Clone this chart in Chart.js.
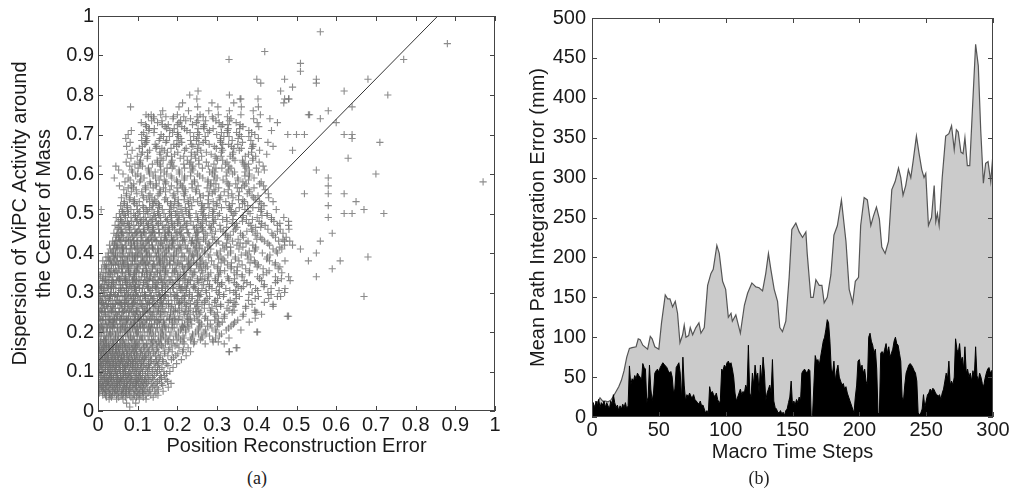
<!DOCTYPE html>
<html>
<head>
<meta charset="utf-8">
<script src="https://cdn.jsdelivr.net/npm/chart.js@4/dist/chart.umd.min.js"></script>
<style>
  body { margin: 0; background: #fff; width: 1012px; height: 489px; position: relative; overflow: hidden; }
  canvas { position: absolute; top: 0; }
  #left { left: 0; }
  #right { left: 506px; }
  .cap { position: absolute; font-family: "Liberation Serif", serif; font-size: 18px; color: #222; transform: translate(-50%, -50%); top: 478px; }
</style>
</head>
<body>
<canvas id="left" width="506" height="460"></canvas>
<canvas id="right" width="506" height="470"></canvas>
<div class="cap" style="left:257px">(a)</div>
<div class="cap" style="left:759px">(b)</div>
<script>
// ---------- (a) scatter: rows of the cloud, y value + x positions (thousandths) ----------
const cloudY = [0.01,0.02,0.03,0.04,0.05,0.06,0.07,0.08,0.09,0.10,0.11,0.12,0.13,0.14,0.15,0.16,0.17,0.18,0.19,0.20,
  0.21,0.22,0.23,0.24,0.25,0.26,0.27,0.28,0.29,0.30,0.31,0.32,0.33,0.34,0.35,0.36,0.37,0.38,0.39,0.40,
  0.41,0.42,0.43,0.44,0.45,0.46,0.47,0.48,0.49,0.50,0.51,0.52,0.53,0.54,0.55,0.56,0.57,0.58,0.59,0.60,
  0.61,0.62,0.63,0.64,0.65,0.66,0.67,0.68,0.69,0.70,0.71,0.72,0.73,0.74,0.75,0.76,0.77,0.78,0.79,0.80,0.81];
const cloudX = [
  [80],
  [72,95],
  [28,47,63,88,104,121],
  [12,19,31,36,47,58,61,73,79,92,101,108,121,133,151],
  [5,11,22,26,37,44,53,59,68,77,83,95,99,112,118,129,143,164],
  [0,9,14,25,33,38,49,55,64,72,81,86,97,106,111,124,137,149,177],
  [3,7,18,22,31,42,47,56,67,71,80,91,96,103,115,122,134,146,160,184],
  [1,12,16,27,35,40,51,58,63,76,84,88,99,109,117,126,139,155,171],
  [6,10,20,29,34,45,50,61,69,74,85,93,102,107,119,131,142,158,167],
  [2,8,17,24,32,41,46,57,66,70,79,90,98,104,113,125,136,150,166,181],
  [4,13,19,28,36,43,52,62,67,78,87,94,101,110,123,130,144,161,189],
  [0,7,15,23,30,39,48,54,65,73,82,89,100,108,116,128,141,153,172,198],
  [5,11,21,26,37,44,51,60,71,77,86,96,105,114,121,135,148,163,185,210],
  [2,9,18,25,33,42,49,58,64,75,83,92,99,112,119,132,145,157,176,196,222],
  [0,6,14,22,31,38,47,55,62,72,80,90,97,107,118,127,139,152,168,187,213,233,331],
  [3,12,17,28,35,45,52,61,69,78,88,95,104,115,124,136,150,164,181,204,227,348],
  [1,10,21,27,38,46,55,67,73,84,95,101,114,122,133,147,156,170,186,199,217,241,270,318],
  [5,14,19,31,40,49,58,64,77,86,92,105,111,126,135,144,159,177,190,208,233,258,289],
  [0,8,17,26,33,44,52,61,70,81,89,99,108,118,129,140,152,165,181,197,214,239,262,281,306],
  [3,13,22,29,37,48,56,66,75,83,96,102,113,124,131,145,158,171,184,203,221,246,267,297,402],
  [7,11,24,32,41,50,60,69,79,87,98,107,117,127,138,149,162,178,192,210,229,254,287,329],
  [2,15,20,28,39,45,57,63,74,85,91,104,112,121,135,142,155,168,186,199,218,236,261,283,305,341],
  [6,10,19,31,36,47,54,68,72,82,94,100,110,123,130,146,153,166,180,194,212,233,252,276,294,352],
  [1,13,23,27,40,49,59,65,77,88,93,106,115,126,136,148,161,174,189,206,226,249,271,297,318,365,477],
  [4,9,18,30,35,44,53,62,71,80,90,99,112,119,133,141,157,169,183,201,217,240,259,284,301,338,396],
  [0,11,16,25,38,43,55,61,74,83,96,103,116,124,139,152,163,178,195,211,232,247,268,287,325,372],
  [5,14,21,32,40,50,59,68,78,87,99,109,121,130,143,156,172,186,203,222,244,262,280,309,347,388,441],
  [2,8,19,27,36,46,55,66,72,85,94,104,113,126,137,150,160,177,193,210,229,251,270,295,333,379],
  [6,12,23,30,42,49,61,69,81,90,101,107,119,133,141,157,168,184,201,218,237,256,281,316,356,404,452],
  [3,15,20,34,39,52,58,67,77,88,97,111,117,130,146,153,170,182,199,214,231,250,273,303,342,388,428],
  [9,13,26,31,45,53,63,72,84,92,104,112,126,137,149,161,176,190,207,223,245,262,287,322,361,397,436,471],
  [4,17,22,35,43,57,62,75,80,94,101,115,123,138,146,162,174,191,205,226,242,266,281,311,349,384,419],
  [11,15,28,38,47,55,68,73,86,97,106,119,128,141,152,168,179,196,214,233,251,276,296,330,368,412,452,484],
  [7,20,25,36,49,58,66,79,89,96,110,117,132,144,155,171,186,201,219,237,258,279,303,326,363,402,447],
  [13,18,30,41,50,62,70,82,92,103,112,125,134,149,158,176,189,207,222,242,264,284,307,343,381,425,463],
  [9,22,28,39,53,59,73,78,91,100,114,121,137,146,162,170,188,198,217,234,254,271,301,335,372,416,454],
  [16,21,34,44,52,65,76,83,96,106,118,127,141,151,166,181,194,212,228,248,266,292,326,363,404,446],
  [12,26,31,47,56,62,74,87,93,108,114,130,139,155,163,180,191,209,224,241,262,286,319,355,394,432,471],
  [20,25,38,49,61,68,80,91,99,112,123,134,148,157,173,184,202,218,236,257,278,310,346,385,427],
  [26,33,44,55,64,78,86,98,106,121,129,144,152,168,179,197,211,229,250,268,299,334,372,414,452],
  [31,39,50,61,72,81,95,103,117,126,140,150,164,177,192,207,224,244,262,284,318,355,397,441,463],
  [29,42,48,60,70,84,92,108,114,129,137,153,163,179,189,206,220,241,257,281,314,350,390,432,470],
  [37,45,57,68,77,90,100,113,124,135,148,158,174,186,201,217,236,254,271,303,339,378,419,455,483],
  [45,52,64,76,87,98,110,121,133,144,159,169,185,199,214,231,249,266,293,327,366,409,447,474],
  [40,50,61,73,85,95,107,118,131,142,154,168,179,196,210,228,247,270,287,321,359,401,438,466],
  [48,58,70,81,93,104,116,128,140,153,164,180,193,209,224,243,262,283,309,346,387,428,459,481],
  [43,55,66,79,90,102,114,127,138,151,163,177,192,207,222,240,258,280,307,344,385,421,452],
  [51,60,74,85,97,109,122,134,147,158,173,186,201,218,234,252,273,290,325,364,406,443],
  [46,57,69,83,94,106,119,131,145,157,170,184,199,216,232,251,270,289,324,363,401,437,468],
  [54,65,77,90,101,115,126,141,152,166,180,195,212,228,247,266,290,306,343,383,426],
  [8,61,83,99,121,136,162,180,209,231,264,292,333,370,412,449],
  [57,74,98,113,138,155,184,204,236,261,298,331,377,418],
  [66,89,104,130,146,175,193,227,251,290,322,369,407,441],
  [59,81,115,136,171,194,232,258,305,340,392,430],
  [72,98,131,154,191,216,256,288,337,376,429],
  [65,96,120,156,181,219,248,292,328,380,421],
  [54,84,119,146,185,212,252,284,331,369,417],
  [68,105,131,171,200,243,277,325,365,411],
  [41,76,116,145,186,218,264,300,352,393],
  [63,100,130,173,205,251,288,339,381],
  [52,85,127,158,204,239,289,329,381,419],
  [0,45,80,112,157,191,239,278,330,370,416],
  [71,105,150,185,234,273,325,365,406],
  [83,124,159,207,246,298,340,390],
  [74,109,156,193,244,285,339,379,425],
  [86,130,167,218,259,314,356,407],
  [72,112,148,198,239,293,336,390,441],
  [81,121,171,211,265,309,364,428],
  [70,120,156,209,252,308,353,404],
  [76,110,159,200,255,299,356,395,478],
  [84,128,181,224,281,326,380,437],
  [122,169,211,266,310,365,405],
  [109,150,204,248,305,348,401,452],
  [141,189,233,290,335,392,433],
  [121,134,158,200,257,303,360,409,533],
  [163,228,279,331,391],
  [82,204,251,302,361,404],
  [213,287,342,468],
  [249,358,403,481],
  [231,331],
  [252]
];
// second pass of rows, read between the first ones
const cloudY2 = [0.175,0.185,0.195,0.205,0.215,0.225,0.235,0.245,0.255,0.265,0.275,0.285,0.295,0.305,0.315,0.325,0.335,0.345,0.355,0.365,
  0.375,0.385,0.395,0.405,0.415,0.425,0.435,0.445,0.455,0.465,0.475,0.485,0.495,0.505,0.515,0.525,0.535,0.545,0.555,0.565,
  0.575,0.585,0.595,0.605,0.615,0.625,0.635,0.645,0.655,0.665,0.675,0.685,0.695,0.705,0.715,0.725,0.735,0.745];
const cloudX2 = [
  [6,17,36,62,96,138,153,176,214,243,290,303],
  [21,44,82,111,158,171,202,217,236,262,296,330],
  [2,31,44,75,98,136,162,196,238,253,272,311],
  [14,56,71,94,132,161,208,221,252,271,297,323,360],
  [9,35,62,91,106,129,167,213,226,257,276,301,335],
  [27,40,71,90,116,150,165,188,226,255,302,313,344,381],
  [4,42,57,76,102,133,180,193,224,243,269,303,318,396],
  [18,47,94,107,138,157,183,217,232,255,293,319,366,412],
  [7,33,67,78,97,123,152,190,205,228,254,283,330,343,395],
  [23,36,67,86,112,146,161,184,222,251,298,309,340,372,441],
  [11,53,68,91,129,158,205,218,249,268,294,328,343,419],
  [3,29,76,89,120,139,165,199,214,237,275,301,348,396,430],
  [31,44,75,94,120,154,169,192,230,259,306,317,348,380,436],
  [15,57,72,95,133,162,209,222,253,272,298,332,347,402,456],
  [8,34,81,94,125,144,170,204,219,242,280,306,353,366,418],
  [26,39,70,89,115,149,164,187,225,254,301,312,343,375,447],
  [12,54,69,92,130,159,206,219,250,269,295,329,344,407,462],
  [5,31,78,91,122,141,167,201,216,239,277,303,350,363,416],
  [33,46,77,96,122,156,171,194,232,261,308,319,350,382,431],
  [19,61,76,99,137,166,213,226,257,276,302,336,351,401,458],
  [38,64,111,124,155,174,200,234,249,272,310,336,383,396,447],
  [29,42,73,92,118,152,167,190,228,257,304,315,346,378,425],
  [44,86,101,124,162,191,238,251,282,301,327,361,376,433],
  [36,62,109,122,153,172,198,232,247,270,308,334,381,394,449],
  [48,61,92,111,137,171,186,209,247,276,323,334,365,397,458],
  [41,83,98,121,159,188,235,248,279,298,324,358,373,428],
  [55,81,128,141,172,191,217,251,266,289,327,353,400,413,466],
  [47,60,91,110,136,170,185,208,246,275,322,333,364,396,441],
  [58,100,115,138,176,205,252,265,296,315,341,375,390,452],
  [52,78,125,138,169,188,214,248,263,286,324,350,397,410],
  [63,76,107,126,152,186,201,224,262,291,338,349,380,412,458],
  [57,99,114,137,175,204,251,264,295,314,340,374,389,437],
  [68,94,141,154,185,204,230,264,279,302,340,366,413,426],
  [61,74,105,124,150,184,199,222,260,289,336,347,378,410],
  [73,115,130,153,191,220,267,280,311,330,356,390,405],
  [66,92,139,152,183,202,228,262,277,300,338,364,411],
  [79,92,123,142,168,202,217,240,278,307,354,365,396],
  [71,113,128,151,189,218,265,278,309,328,354,388,403],
  [84,110,157,170,201,220,246,280,295,318,356,382],
  [76,89,120,139,165,199,214,237,275,304,351,362,393],
  [90,132,147,170,208,237,284,297,328,347,373,407],
  [81,107,154,167,198,217,243,277,292,315,353,379],
  [95,108,139,158,184,218,233,256,294,323,370,381],
  [87,129,144,167,205,234,281,294,325,344,370,404],
  [101,127,174,187,218,237,263,297,312,335,373,399],
  [93,106,137,156,182,216,231,254,292,321,368,379],
  [107,149,164,187,225,254,301,314,345,364,390],
  [99,125,172,185,216,235,261,295,310,333,371,397],
  [112,125,156,175,201,235,250,273,311,340,387],
  [104,146,161,184,222,251,298,311,342,361,387],
  [118,144,191,204,235,254,280,314,329,352,390],
  [110,123,154,173,199,233,248,271,309,338,385],
  [123,165,180,203,241,270,317,330,361,380],
  [115,141,188,201,232,251,277,311,326,349,387],
  [129,142,173,192,218,252,267,290,328,357],
  [120,162,177,200,238,267,314,327,358],
  [135,161,208,221,252,271,297,331],
  [127,140,171,190,216,250,265,288,326]
];
// extra rows for the packed lower-left core
const coreY = [0.035,0.045,0.055,0.065,0.075,0.085,0.095,0.105,0.115,0.125,0.135,0.145,0.155,0.165];
const coreX = [
  [21,34,52,69,83,97,114,139],
  [3,16,29,41,50,64,71,89,104,113,126,146],
  [2,15,19,30,41,48,62,70,79,91,103,115,131,152],
  [5,11,20,28,37,45,53,66,75,88,95,108,119,141,163],
  [0,13,24,26,35,49,54,60,73,82,97,101,112,128,150,175],
  [8,17,21,32,39,46,57,65,71,80,94,105,121,137,160],
  [3,14,25,30,38,49,56,64,77,82,97,112,126,147,173],
  [0,11,19,27,35,44,54,63,70,86,93,107,119,138,155],
  [6,9,23,31,40,47,57,69,74,83,98,114,127,150,176],
  [2,13,19,28,35,45,57,62,76,87,94,110,132,146,164],
  [7,16,24,33,40,51,59,67,79,91,103,117,128,154,190],
  [0,12,20,27,37,45,54,66,73,84,96,108,123,141,168,201],
  [4,9,18,29,36,44,51,63,75,86,93,110,129,147,178,215],
  [0,14,22,26,39,48,57,68,80,91,99,118,138,160,194]
];
// extra rows for the dense band above the core
const bandY = [0.212,0.232,0.252,0.272,0.292,0.312,0.332,0.352,0.372,0.392,0.412,0.432,0.452];
const bandX = [
  [4,22,37,49,68,81,99,114,133,149,171,188,215],
  [12,29,41,60,73,92,106,121,142,157,180,203,229],
  [1,18,35,53,64,85,97,116,130,151,166,194,221,247],
  [9,26,44,57,76,90,108,125,139,162,178,206,233],
  [16,31,50,66,83,99,117,134,155,170,196,219,252],
  [6,24,39,58,71,92,105,127,146,161,188,211,240],
  [19,35,52,70,87,103,124,138,159,182,201,229,262],
  [27,43,61,77,96,112,131,150,170,193,216,244],
  [33,50,68,86,101,120,141,157,181,204,230,259],
  [40,58,75,94,111,130,147,169,191,214,241],
  [46,64,83,99,119,137,158,178,202,226,255],
  [53,71,90,108,126,146,167,188,213,238],
  [60,79,97,115,136,154,177,199,225,251]
];
// scattered points outside the main cloud
const outlierX = [0.56,0.42,0.33,0.88,0.77,0.68,0.73,0.62,0.55,0.55,0.51,0.51,0.47,0.40,0.41,0.49,0.46,0.47,0.48,0.36,
  0.97,0.71,0.70,0.72,0.67,0.65,0.68,0.67,0.63,0.64,0.64,0.64,0.62,0.60,0.62,0.62,0.64,0.59,0.58,0.58,
  0.58,0.58,0.58,0.58,0.59,0.61,0.55,0.55,0.56,0.56,0.53,0.52,0.55,0.53,0.51,0.48,0.40,0.40,0.33,0.35,
  0.52,0.50,0.49,0.48,0.48,0.47,0.49,0.48,0.47,0.46];
const outlierY = [0.96,0.91,0.89,0.93,0.89,0.84,0.80,0.81,0.84,0.83,0.86,0.88,0.84,0.84,0.83,0.82,0.81,0.79,0.79,0.79,
  0.58,0.68,0.60,0.50,0.51,0.53,0.39,0.29,0.64,0.70,0.69,0.77,0.70,0.73,0.55,0.50,0.50,0.45,0.49,0.52,
  0.55,0.57,0.59,0.76,0.36,0.38,0.34,0.40,0.43,0.74,0.75,0.55,0.61,0.38,0.41,0.24,0.20,0.25,0.15,0.16,
  0.70,0.70,0.66,0.48,0.47,0.43,0.42,0.34,0.30,0.29];
// fitted line end points
const fitX = [0, 0.856];
const fitY = [0.126, 1];
const tickLabelsA = ['0','0.1','0.2','0.3','0.4','0.5','0.6','0.7','0.8','0.9','1'];

// ---------- (b) error over time ----------
const upperSteps = [0,2,4,6,8,10,12,14,16,18,20,22,24,26,28,30,33,34.6,36,38,41.6,43.6,45,47,50,52,54.8,56.6,58.3,60.3,62.3,64,65.8,67.8,69,70.3,72.3,73.5,75.3,77.7,
  80,81.5,84,86.5,89,90.7,93.4,95.2,97.7,100,102,104,105,107.6,111,114,116.4,119.6,122.6,125,127.6,130,132,133.8,136.3,138.8,140.5,142.5,145,147.5,
  149.5,152.5,155,157.5,160,161,163.7,165.5,167.5,170,172,173.7,176,178.7,181,183.6,186.6,190,192.4,195,197,199.4,201,203.6,206,208.6,210.6,212.8,215,216.8,
  219.3,221.8,224.3,226.8,229.3,231,232.7,234.7,236.7,238.5,240.2,242.7,244.7,246.7,248.4,249.7,251.7,254,256,257.2,258.4,259.7,262,264.6,267,269,
  271,272.6,274,276,277.6,279,280.8,282.6,284.6,287,289,290.8,292.8,294.5,296.3,298.3,300];
const upperVals = [8,14,18,24,20,20,19,21,26,32,38,46,58,75,86,87,88,98,97,90,85,101,98,88,85,118,153,148,148,138,145,130,93,103,115,100,102,112,103,112,
  118,105,112,165,180,185,215,205,170,160,125,130,120,128,105,140,155,168,163,162,158,180,205,185,160,145,112,107,120,175,
  235,243,232,225,232,205,150,150,172,165,165,143,150,178,228,240,272,220,160,143,170,175,240,275,272,240,252,263,248,213,
  205,220,285,295,312,300,278,290,310,300,320,352,330,310,300,305,240,250,290,245,255,240,300,352,355,365,
  335,360,357,332,330,350,315,315,385,467,440,360,293,318,320,295,330];

const lowerSteps = [0,1,2,3,4,5,6,7,8,9,10,11,12,13,14,15,16,17,18,19,20,21,22,23,24,25,26,27,28,29,30,31,32,33,34,35,36,37,38,39,
  40,41,42,43,44,45,46,47,48,49,50,51,52,53,54,55,56,57,58,59,60,61,62,63,64,65,66,67,68,69,70,71,72,73,74,75,76,77,78,79,
  80,81,82,83,84,85,86,87,88,89,90,91,92,93,94,95,96,97,98,99,100,101,102,103,104,105,106,107,108,109,110,111,112,113,114,115,116,117,118,119,
  120,121,122,123,124,125,126,127,128,129,130,131,132,133,134,135,136,137,138,139,140,141,142,143,144,145,146,147,148,149,150,151,152,153,154,155,156,157,158,159,
  160,161,162,163,164,165,166,167,168,169,170,171,172,173,174,175,176,177,178,179,180,181,182,183,184,185,186,187,188,189,190,191,192,193,194,195,196,197,198,199,
  200,201,202,203,204,205,206,207,208,209,210,211,212,213,214,215,216,217,218,219,220,221,222,223,224,225,226,227,228,229,230,231,232,233,234,235,236,237,238,239,
  240,241,242,243,244,245,246,247,248,249,250,251,252,253,254,255,256,257,258,259,260,261,262,263,264,265,266,267,268,269,270,271,272,273,274,275,276,277,278,279,
  280,281,282,283,284,285,286,287,288,289,290,291,292,293,294,295,296,297,298,299,300];
const lowerVals = [12,18,10,20,14,22,12,18,15,20,12,18,14,10,20,16,28,18,12,15,8,14,10,16,12,18,10,14,64,40,48,45,52,48,55,52,50,45,67,62,
  60,18,25,65,35,20,30,55,58,60,56,62,65,68,66,64,62,58,55,57,50,30,35,62,65,68,55,22,75,40,20,28,25,30,26,24,28,22,20,18,
  16,20,14,15,10,5,8,4,38,30,32,28,25,30,22,18,20,60,58,65,62,68,70,66,68,60,50,30,20,25,30,35,28,32,30,40,35,90,30,25,
  55,40,65,50,55,30,65,45,75,55,20,30,35,40,30,72,20,12,10,6,5,8,4,6,2,8,10,18,25,45,15,20,15,22,18,25,20,55,58,60,
  57,55,60,58,0,2,40,77,70,72,65,75,85,95,100,110,122,118,95,60,55,70,45,58,65,50,45,40,42,35,38,30,25,20,15,10,5,25,40,70,
  72,60,65,55,60,45,40,100,105,95,90,80,85,60,4,5,80,82,78,85,92,80,88,75,80,85,95,100,92,90,80,70,25,20,40,55,60,65,67,65,
  62,58,55,45,5,3,5,10,28,12,20,28,30,35,32,36,34,30,28,26,28,22,30,35,45,55,48,70,40,45,40,50,98,85,80,92,70,75,60,88,
  55,60,50,55,45,58,50,88,52,45,55,50,42,38,48,55,60,62,55,58,60];

// draws the frame and the inward tick marks, MATLAB style
const boxTicks = {
  id: 'boxTicks',
  afterDatasetsDraw(chart) {
    const ctx = chart.ctx;
    const a = chart.chartArea;
    const len = 5;
    ctx.save();
    ctx.strokeStyle = '#444';
    ctx.lineWidth = 1;
    ctx.strokeRect(Math.round(a.left) + 0.5, Math.round(a.top) + 0.5, Math.round(a.right - a.left) - 1, Math.round(a.bottom - a.top) - 1);
    ctx.beginPath();
    chart.scales.x.ticks.forEach(t => {
      const px = Math.round(chart.scales.x.getPixelForValue(t.value)) + 0.5;
      ctx.moveTo(px, a.bottom); ctx.lineTo(px, a.bottom - len);
      ctx.moveTo(px, a.top); ctx.lineTo(px, a.top + len);
    });
    chart.scales.y.ticks.forEach(t => {
      const py = Math.round(chart.scales.y.getPixelForValue(t.value)) + 0.5;
      ctx.moveTo(a.left, py); ctx.lineTo(a.left + len, py);
      ctx.moveTo(a.right, py); ctx.lineTo(a.right - len, py);
    });
    ctx.stroke();
    ctx.restore();
  }
};

Chart.defaults.font.family = '"Liberation Sans", Arial, sans-serif';
Chart.defaults.color = '#1a1a1a';

// flatten the row tables into one list of points
let cloud = [];
function addRows(ys, rows) {
  rows.forEach((row, i) => {
    row.forEach(v => cloud.push({ x: v / 1000, y: ys[i] }));
  });
}
addRows(cloudY, cloudX);
addRows(cloudY2, cloudX2);
addRows(coreY, coreX);
addRows(bandY, bandX);
outlierX.forEach((v, i) => cloud.push({ x: v, y: outlierY[i] }));

new Chart(document.getElementById('left'), {
  type: 'scatter',
  data: {
    datasets: [
      {
        type: 'line',
        data: fitX.map((v, i) => ({ x: v, y: fitY[i] })),
        borderColor: '#333',
        borderWidth: 1,
        pointRadius: 0,
        fill: false
      },
      {
        data: cloud,
        pointStyle: 'cross',
        pointRadius: 3.6,
        borderColor: 'rgba(110,110,110,0.8)',
        borderWidth: 1.1,
        backgroundColor: 'rgba(110,110,110,0.8)'
      }
    ]
  },
  options: {
    responsive: false,
    animation: false,
    layout: { padding: { left: 0, right: 11, top: 15, bottom: 0 } },
    plugins: { legend: { display: false }, tooltip: { enabled: false } },
    scales: {
      x: {
        type: 'linear', min: 0, max: 1,
        grid: { display: false, drawTicks: false, tickLength: 0 },
        border: { display: false },
        ticks: { stepSize: 0.1, padding: 2, font: { size: 20 }, maxRotation: 0,
          callback: (v, i) => tickLabelsA[i] },
        title: { display: true, text: 'Position Reconstruction Error', font: { size: 20 }, padding: { top: 0, bottom: 2 } },
        afterFit: s => { s.height = 49; }
      },
      y: {
        type: 'linear', min: 0, max: 1,
        grid: { display: false, drawTicks: false, tickLength: 0 },
        border: { display: false },
        ticks: { stepSize: 0.1, padding: 4, font: { size: 20 },
          callback: (v, i) => tickLabelsA[i] },
        title: { display: true, text: ['Dispersion of ViPC Activity around', 'the Center of Mass'], font: { size: 20 }, padding: { top: 8, bottom: 0 } },
        afterFit: s => { s.width = 98; }
      }
    }
  },
  plugins: [boxTicks]
});

new Chart(document.getElementById('right'), {
  type: 'line',
  data: {
    datasets: [
      {
        data: lowerSteps.map((v, i) => ({ x: v, y: lowerVals[i] })),
        borderColor: '#000',
        borderWidth: 1,
        backgroundColor: '#000',
        pointRadius: 0,
        tension: 0,
        fill: 'origin'
      },
      {
        data: upperSteps.map((v, i) => ({ x: v, y: upperVals[i] })),
        borderColor: '#555',
        borderWidth: 1.2,
        backgroundColor: '#cbcbcb',
        pointRadius: 0,
        tension: 0,
        fill: 'origin'
      }
    ]
  },
  options: {
    responsive: false,
    animation: false,
    layout: { padding: { left: 0, right: 19, top: 15, bottom: 0 } },
    plugins: { legend: { display: false }, tooltip: { enabled: false } },
    scales: {
      x: {
        type: 'linear', min: 0, max: 300,
        grid: { display: false, drawTicks: false, tickLength: 0 },
        border: { display: false },
        ticks: { stepSize: 50, padding: 1, font: { size: 20 }, maxRotation: 0 },
        title: { display: true, text: 'Macro Time Steps', font: { size: 20 }, padding: { top: 0, bottom: 6 } },
        afterFit: s => { s.height = 53; }
      },
      y: {
        type: 'linear', min: 0, max: 500,
        grid: { display: false, drawTicks: false, tickLength: 0 },
        border: { display: false },
        ticks: { stepSize: 50, padding: 6, font: { size: 20 } },
        title: { display: true, text: 'Mean Path Integration Error (mm)', font: { size: 20 }, padding: { top: 20, bottom: 0 } },
        afterFit: s => { s.width = 86; }
      }
    }
  },
  plugins: [boxTicks]
});
</script>
</body>
</html>
